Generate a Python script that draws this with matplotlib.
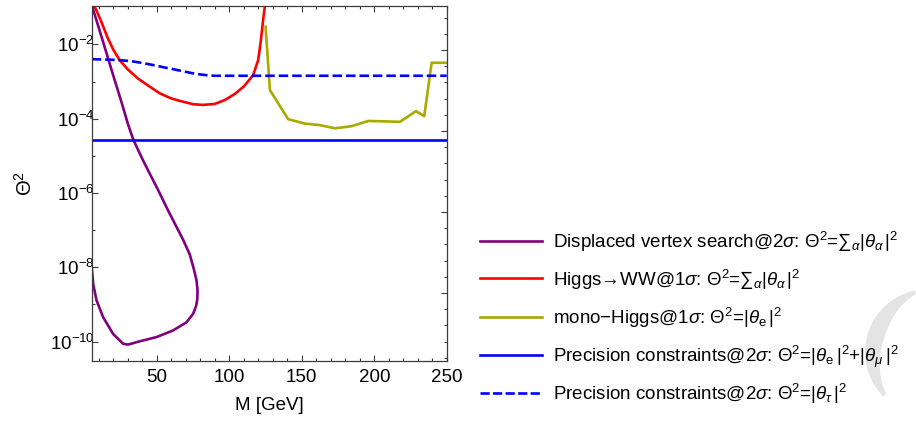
import numpy as np
import matplotlib
matplotlib.use("Agg")
import matplotlib.pyplot as plt
from matplotlib.lines import Line2D
from matplotlib.patches import Polygon
from matplotlib.ticker import FixedLocator, MultipleLocator, NullFormatter, LogFormatterSciNotation

plt.rcParams.update({
    "font.family": ["Liberation Sans", "DejaVu Sans"],
    "mathtext.fontset": "custom",
    "mathtext.rm": "Liberation Sans",
    "mathtext.it": "Liberation Sans:italic",
    "mathtext.bf": "Liberation Sans:bold",
    "font.size": 13.5,
})

# Displaced vertex search @ 2 sigma (closed contour, traced top -> nose -> back to left edge)
DV_M = [5.3, 10, 15, 20, 25, 30, 33.6, 37, 40, 44, 51, 57.7, 62, 68, 72.7,
        75.5, 77.3, 78.0, 77.9, 77.0, 75.0, 70.4, 61.2, 49.7, 38.2, 30.1, 26.7,
        19.8, 12.8, 8.3, 6.0, 5.0]
DV_T2 = [1.07e-1, 2.7e-2, 6.2e-3, 1.4e-3, 3.3e-4, 7.2e-5, 2.8e-5, 1.45e-5, 8.2e-6,
         4.0e-6, 1.17e-6, 3.4e-7, 1.6e-7, 5.6e-8, 2.2e-8, 8.9e-9, 4.5e-9,
         2.5e-9, 1.4e-9, 8.9e-10, 5.6e-10, 3.3e-10, 2.0e-10, 1.32e-10, 1.02e-10,
         8.3e-11, 8.7e-11, 1.6e-10, 4.6e-10, 1.3e-9, 3.6e-9, 1.0e-8]

# Higgs -> WW @ 1 sigma
WW_M = [6.9, 9, 11.5, 16, 20, 24.2, 30, 37, 43.7, 52, 60, 66, 75, 82, 90, 97,
        104, 110, 116.4, 119.9, 121.8, 123.3, 124.6]
WW_T2 = [1.07e-1, 7.1e-2, 4.2e-2, 1.5e-2, 7.1e-3, 3.8e-3, 2.1e-3, 1.2e-3, 7.9e-4,
         4.8e-4, 3.5e-4, 3.0e-4, 2.45e-4, 2.35e-4, 2.5e-4, 3.2e-4, 4.7e-4, 7.4e-4,
         1.48e-3, 3.8e-3, 1.32e-2, 4.6e-2, 1.12e-1]

# mono-Higgs @ 1 sigma
MH_M = [125, 128, 140.6, 152, 162.5, 173, 184.4, 196, 206, 217.7, 228.8, 234.5,
        239.6, 250]
MH_T2 = [3.0e-2, 5.9e-4, 9.7e-5, 7.4e-5, 6.7e-5, 5.5e-5, 6.3e-5, 8.7e-5, 8.5e-5,
         8.2e-5, 1.6e-4, 1.17e-4, 3.2e-3, 3.2e-3]

# Precision constraints @ 2 sigma, e+mu (solid) and tau (dashed)
PE_M = [5, 250]
PE_T2 = [2.75e-5, 2.75e-5]
PT_M = [5, 10, 15, 20, 25, 30, 35, 40, 45, 50, 55, 60, 65, 70, 75, 80, 85, 90, 95, 250]
PT_T2 = [4.0e-3, 3.95e-3, 3.9e-3, 3.85e-3, 3.75e-3, 3.6e-3, 3.4e-3, 3.15e-3, 2.9e-3,
         2.65e-3, 2.4e-3, 2.2e-3, 2.0e-3, 1.82e-3, 1.66e-3, 1.55e-3, 1.47e-3,
         1.43e-3, 1.43e-3, 1.43e-3]

PURPLE = "#800080"
RED = "#ff0000"
OLIVE = "#a9a900"
BLUE = "#0000ff"
FRAME = "#3c3c3c"

LABELS = [
    r"Displaced vertex search@2$\sigma$: $\Theta^2$=∑${}_\alpha|\theta_\alpha\,|^2$",
    r"Higgs→WW@1$\sigma$: $\Theta^2$=∑${}_\alpha|\theta_\alpha\,|^2$",
    r"mono−Higgs@1$\sigma$: $\Theta^2$=$|\theta_\mathrm{e}\,|^2$",
    r"Precision constraints@2$\sigma$: $\Theta^2$=$|\theta_\mathrm{e}\,|^2$+$|\theta_\mu\,|^2$",
    r"Precision constraints@2$\sigma$: $\Theta^2$=$|\theta_\tau\,|^2$",
]

W, H = 916, 423
fig = plt.figure(figsize=(W / 100, H / 100), dpi=100)
ax = fig.add_axes([91.7 / W, 1 - 361 / H, 355 / W, 355 / H])

lw = 1.9
DASH = (3.6, 1.5)
ax.plot(DV_M, DV_T2, color=PURPLE, lw=lw)
ax.plot(WW_M, WW_T2, color=RED, lw=lw)
ax.plot(MH_M, MH_T2, color=OLIVE, lw=lw)
ax.plot(PE_M, PE_T2, color=BLUE, lw=lw)
ax.plot(PT_M, PT_T2, color=BLUE, lw=lw, dashes=DASH)

ax.set_yscale("log")
ax.set_xlim(5, 250)
ax.set_ylim(3e-11, 0.108)
ax.yaxis.set_major_locator(FixedLocator([1e-10, 1e-8, 1e-6, 1e-4, 1e-2]))
ax.yaxis.set_major_formatter(LogFormatterSciNotation())
ax.yaxis.set_minor_locator(FixedLocator([1e-9, 1e-7, 1e-5, 1e-3, 1e-1]))
ax.yaxis.set_minor_formatter(NullFormatter())
ax.xaxis.set_major_locator(MultipleLocator(50))
ax.xaxis.set_minor_locator(MultipleLocator(10))

for side in ax.spines.values():
    side.set_color(FRAME)
    side.set_linewidth(0.9)
ax.tick_params(which="both", direction="in", color=FRAME, width=0.8,
               top=True, right=False, labelsize=13.5)
ax.tick_params(axis="x", pad=6)
ax.tick_params(axis="y", pad=-2)
ax.tick_params(which="major", length=4)
ax.tick_params(which="minor", length=2.2)

# right frame ticks (independent scale, unlabeled)
ax2 = ax.twinx()
ax2.set_ylim(361, 6)
ax2.yaxis.set_major_locator(FixedLocator([50 + 81 * k for k in range(4)]))
ax2.yaxis.set_minor_locator(FixedLocator([1.4 + 16.2 * k for k in range(23)]))
ax2.yaxis.set_major_formatter(NullFormatter())
ax2.tick_params(which="both", direction="in", color=FRAME, width=0.8)
ax2.tick_params(which="major", length=4)
ax2.tick_params(which="minor", length=2.2)
for side in ax2.spines.values():
    side.set_visible(False)

ax.set_xlabel("M [GeV]", fontsize=13.5, labelpad=8)
ax.set_ylabel(r"$\Theta^2$", fontsize=14.5, labelpad=10)

# decorative grey crescent in the lower right corner
th = np.linspace(np.radians(102), np.radians(225), 80)
frac = (th - th[0]) / (th[-1] - th[0])
r_out = 63
width = 4 + 13 * np.sin(np.pi * frac)
cx, cy = 928, 71
outer = np.column_stack([cx + r_out * np.cos(th), cy + r_out * np.sin(th)])
inner = np.column_stack([cx + (r_out - width) * np.cos(th), cy + (r_out - width) * np.sin(th)])
pts = np.vstack([outer, inner[::-1]]) / [W, H]
fig.add_artist(Polygon(pts, closed=True, transform=fig.transFigure,
                       facecolor="#e4e4e4", edgecolor="none", zorder=0))

# legend, drawn row by row
styles = [dict(color=PURPLE), dict(color=RED), dict(color=OLIVE),
          dict(color=BLUE), dict(color=BLUE, dashes=(3.5, 1.25))]
row_y = [240.7, 278.3, 317.3, 355.0, 393.3]
for y, st, lab in zip(row_y, styles, LABELS):
    fig.add_artist(Line2D([480 / W, 541.7 / W], [1 - y / H, 1 - y / H],
                          transform=fig.transFigure, lw=lw, **st))
    fig.text(553 / W, 1 - (y + 6.6) / H, lab, fontsize=13.5, va="baseline", ha="left")

fig.savefig("out.png", dpi=100)
